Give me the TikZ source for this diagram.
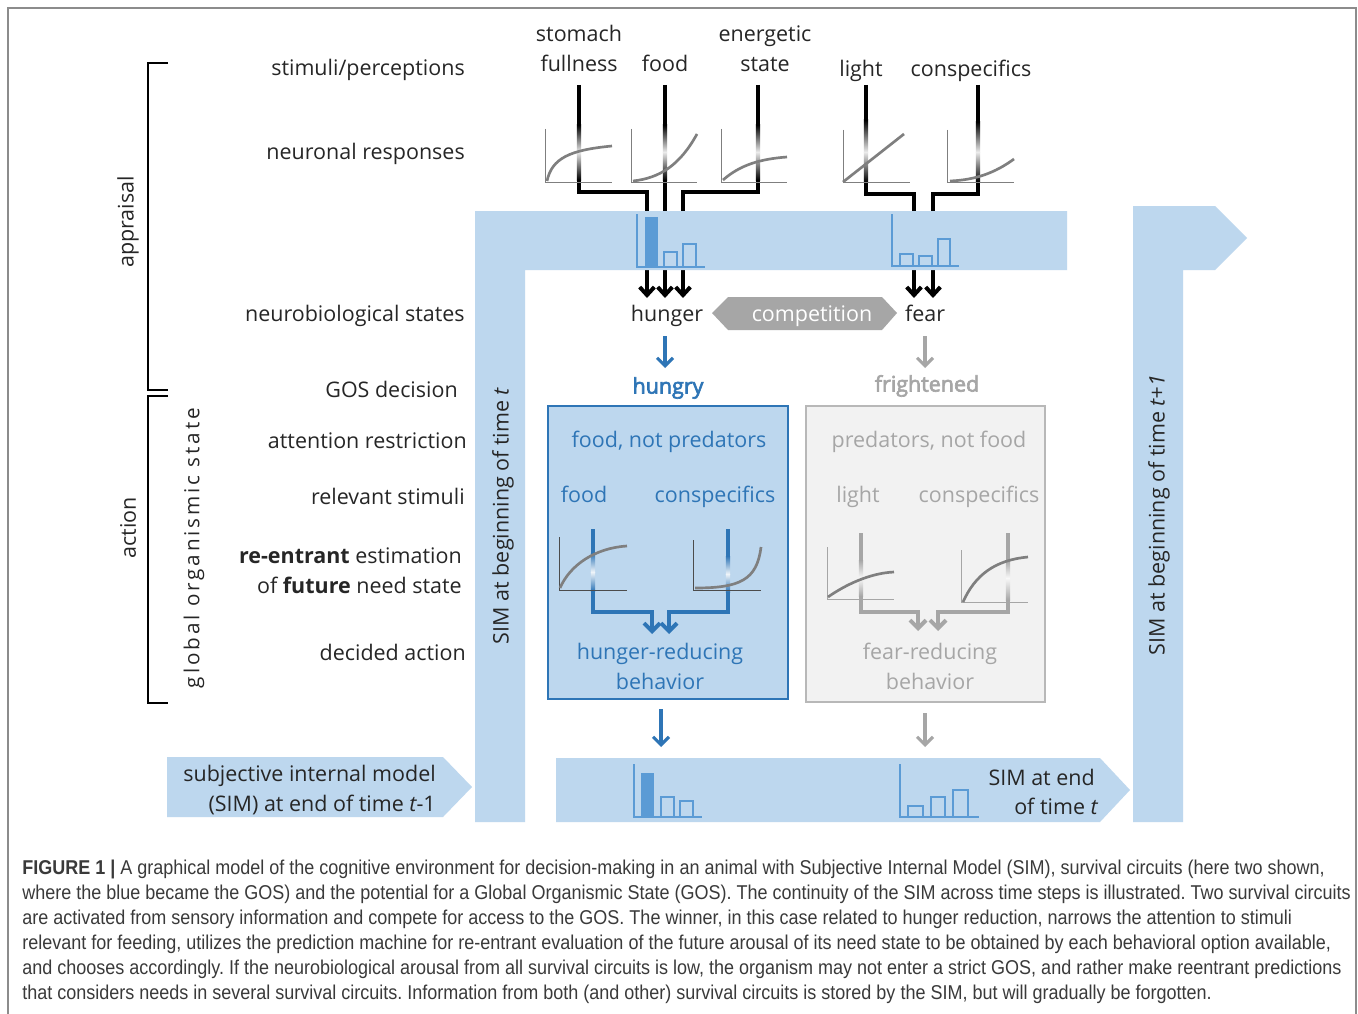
\documentclass[tikz,border=0pt]{standalone}
\usepackage{fontspec}
\setmainfont{Open Sans}
\newfontfamily\capfont[FakeStretch=0.90]{Liberation Sans}
\newfontfamily\gosfont[LetterSpace=14]{Open Sans}
\newfontfamily\semib[FakeBold=3]{Open Sans}
\usetikzlibrary{arrows.meta,calc}
\definecolor{bandblue}{HTML}{BDD7EE}
\definecolor{dblue}{HTML}{2E75B6}
\definecolor{barblue}{HTML}{5B9BD5}
\definecolor{lgrey}{HTML}{A6A6A6}
\definecolor{boxgrey}{HTML}{F2F2F2}
\definecolor{curvegrey}{HTML}{7F7F7F}
\definecolor{txt}{HTML}{262626}
\definecolor{captxt}{HTML}{3A3A3A}
\newcommand\fadeseg[5]{%
  \shade[top color=#5, bottom color=#5!8!white] (#1-2.1,#2) rectangle (#1+2.1,#3);
  \shade[top color=#5!8!white, bottom color=#5] (#1-2.1,#3) rectangle (#1+2.1,#4);}
\tikzset{
  lab/.style={font=\fontsize{16.1}{21}\selectfont, text=txt, inner sep=0pt, anchor=mid, yshift=-2.25pt},
  labr/.style={lab, anchor=mid east},
  blab/.style={lab, text=dblue},
  glab/.style={lab, text=lgrey},
  rot/.style={font=\fontsize{16.1}{21}\selectfont, text=txt, inner sep=0pt, rotate=90, anchor=center},
  axisl/.style={draw=curvegrey, line width=0.7pt},
  daxis/.style={draw=black!70, line width=0.7pt},
  curve/.style={draw=curvegrey, line width=2pt},
  kconn/.style={draw=black, line width=3pt, -{Straight Barb[length=6pt,width=11pt]}},
  bconn/.style={draw=dblue, line width=3pt, -{Straight Barb[length=6pt,width=12pt]}},
  gconn/.style={draw=lgrey, line width=3pt, -{Straight Barb[length=6pt,width=12pt]}},
  barax/.style={draw=barblue, line width=1.3pt},
  barout/.style={draw=barblue, line width=1.1pt},
  captext/.style={font=\capfont\fontsize{15}{19}\selectfont\frenchspacing, text=captxt, inner sep=0pt, anchor=mid west},
}
\begin{document}
\begin{tikzpicture}[x=0.75pt,y=-0.75pt]
\useasboundingbox (0,0) rectangle (1358,1013);
\fill[white] (0,0) rectangle (1358,1013);
\draw[draw=black!45, line width=1.1pt] (8,1030) -- (8,8) -- (1356,8) -- (1356,1030);

% ---------- brackets and left labels
\draw[line width=1.5pt] (168,63) -- (148,63) -- (148,390) -- (168,390);
\draw[line width=1.5pt] (168,396) -- (148,396) -- (148,703) -- (168,703);
\node[rot] (appr) at (128,222) {appraisal};
\node[rot] (act) at (128,528) {action};
\node[rot, font=\gosfont\fontsize{15.5}{20}\selectfont] (gos) at (194,548) {global organismic state};

\node[labr] (l1) at (465,69) {stimuli/perceptions};
\node[labr] (l2) at (465,153) {neuronal responses};
\node[labr] (l3) at (465,315) {neurobiological states};
\node[labr] (l4) at (458,391) {GOS decision};
\node[labr] (l5) at (467,442) {attention restriction};
\node[labr] (l6) at (465,498) {relevant stimuli};
\node[labr] (l7) at (462,557) {\bfseries re-entrant\mdseries{} estimation};
\node[labr] (l8) at (462,587) {of \bfseries future\mdseries{} need state};
\node[labr] (l9) at (466,654) {decided action};

% ---------- stimuli labels
\node[lab] (st1) at (579,35) {stomach};
\node[lab] (st2) at (579,65) {fullness};
\node[lab] (fo) at (665,65) {food};
\node[lab] (en1) at (765,35) {energetic};
\node[lab] (en2) at (765,65) {state};
\node[lab] (li) at (861,70) {light};
\node[lab] (co) at (971,70) {conspecifics};

% ---------- top connectors
\coordinate (s0) at (579,85);  \coordinate (s1) at (647,192); \coordinate (s2) at (647,298);
\coordinate (f0) at (665,85);  \coordinate (f2) at (665,298);
\coordinate (e0) at (758,85);  \coordinate (e1) at (683,192); \coordinate (e2) at (683,298);
\coordinate (g0) at (866,85);  \coordinate (g1) at (914,194); \coordinate (g2) at (914,298);
\coordinate (c0) at (978,85);  \coordinate (c1) at (933,194); \coordinate (c2) at (933,298);
\draw[kconn] (s0) |- (s1) -- (s2);
\draw[kconn] (f0) -- (f2);
\draw[kconn] (e0) |- (e1) -- (e2);
\draw[kconn] (g0) |- (g1) -- (g2);
\draw[kconn] (c0) |- (c1) -- (c2);
\fadeseg{579}{125}{152}{180}{black}
\fadeseg{665}{125}{152}{180}{black}
\fadeseg{758}{125}{152}{180}{black}
\fadeseg{866}{120}{152}{182}{black}
\fadeseg{978}{122}{152}{182}{black}

% response plots
\draw[axisl] (545,129) -- (545,182) -- (612,182);
\draw[curve] (547,181) .. controls (552,158) and (570,150) .. (612,146);
\draw[axisl] (631,129) -- (631,182) -- (697,182);
\draw[curve] (633,181) .. controls (660,178) and (680,165) .. (697,134);
\draw[axisl] (721,129) -- (721,182) -- (787,182);
\draw[curve] (723,180) .. controls (740,165) and (760,159) .. (787,157);
\draw[axisl] (843,130) -- (843,182) -- (910,182);
\draw[curve] (843,182) -- (904,134);
\draw[axisl] (947,130) -- (947,182) -- (1014,182);
\draw[curve] (950,181) .. controls (975,180) and (995,173) .. (1014,159);

% ---------- SIM bands
\fill[bandblue] (475,211) -- (1067,211) -- (1067,270) -- (525,270) -- (525,822) -- (475,822) -- cycle;
\fill[bandblue] (1133,206) -- (1215,206) -- (1247,238) -- (1215,270) -- (1183,270) -- (1183,822) -- (1133,822) -- cycle;
\fill[bandblue] (556,758) -- (1100,758) -- (1130,790) -- (1100,822) -- (556,822) -- cycle;
\fill[bandblue] (167,757) -- (443,757) -- (472,787) -- (443,817) -- (167,817) -- cycle;

\node[rot] (simt) at (503,516) {SIM at beginning of time \itshape t};
\node[rot] (simt1) at (1159,515) {SIM at beginning of time \itshape t+1};
\node[labr] (sim0a) at (436,775) {subjective internal model};
\node[labr] (sim0b) at (436,805) {(SIM) at end of time \itshape t\upshape -1};
\node[labr] (sim1a) at (1095,779) {SIM at end};
\node[labr] (sim1b) at (1098,808) {of time \itshape t};

% bar charts top
\draw[barax] (637,214) -- (637,267) -- (705,267);
\fill[barblue] (645,217) rectangle (658,267);
\draw[barout] (664,252) rectangle (677,267);
\draw[barout] (683,244) rectangle (696,267);
\draw[barax] (892,214) -- (892,266) -- (959,266);
\draw[barout] (900,254) rectangle (913,266);
\draw[barout] (919,256) rectangle (932,266);
\draw[barout] (938,239) rectangle (950,266);
% bar charts bottom
\draw[barax] (634,764) -- (634,817) -- (702,817);
\fill[barblue] (641,773) rectangle (654,817);
\draw[barout] (661,797) rectangle (674,817);
\draw[barout] (680,801) rectangle (693,817);
\draw[barax] (900,764) -- (900,817) -- (979,817);
\draw[barout] (908,806) rectangle (923,817);
\draw[barout] (931,797) rectangle (945,817);
\draw[barout] (953,790) rectangle (968,817);

% ---------- states and competition
\node[lab] (hunger) at (667,315) {hunger};
\node[lab] (fear) at (925,315) {fear};
\fill[lgrey] (712,313) -- (728,297) -- (882,297) -- (897,313) -- (882,330) -- (728,330) -- cycle;
\node[lab, text=white] (comp) at (812,315) {competition};

\coordinate (ha) at (665,336); \coordinate (hb) at (665,368);
\coordinate (fa) at (925,336); \coordinate (fb) at (925,368);
\draw[bconn, line width=2.3pt] (ha) -- (hb);
\draw[gconn, line width=2.3pt] (fa) -- (fb);
\node[blab, font=\semib\fontsize{16.1}{21}\selectfont] (hungry) at (668,387) {hungry};
\node[glab, font=\semib\fontsize{16.1}{21}\selectfont] (fright) at (927,385) {frightened};

% ---------- blue GOS box
\draw[draw=dblue, fill=bandblue, line width=1.2pt] (548,406) rectangle (788,699);
\node[blab] (bt1) at (669,441) {food, not predators};
\node[blab] (bt2) at (584,496) {food};
\node[blab] (bt3) at (715,496) {conspecifics};
\node[blab] (bt4) at (660,653) {hunger-reducing};
\node[blab] (bt5) at (660,683) {behavior};
\draw[bconn] (593,529) -- (593,612) -- (652,612) -- (652,634);
\draw[bconn] (728,529) -- (728,612) -- (669,612) -- (669,634);
\fadeseg{593}{553}{572}{591}{dblue}
\fadeseg{728}{556}{574}{592}{dblue}
\draw[daxis] (559,537) -- (559,590) -- (627,590);
\draw[curve] (560,588) .. controls (570,565) and (595,548) .. (627,546);
\draw[daxis] (693,540) -- (693,590) -- (761,590);
\draw[curve] (695,588) .. controls (740,588) and (757,580) .. (761,547);

% ---------- grey box
\draw[draw=lgrey!80, fill=boxgrey, line width=1.2pt] (806,406) rectangle (1045,702);
\node[glab] (gt1) at (929,441) {predators, not food};
\node[glab] (gt2) at (858,496) {light};
\node[glab] (gt3) at (979,496) {conspecifics};
\node[glab] (gt4) at (930,653) {fear-reducing};
\node[glab] (gt5) at (930,683) {behavior};
\draw[gconn] (861,533) -- (861,612) -- (918,612) -- (918,631);
\draw[gconn] (1008,533) -- (1008,612) -- (938,612) -- (938,631);
\fadeseg{861}{560}{578}{596}{lgrey}
\fadeseg{1008}{560}{578}{600}{lgrey}
\draw[axisl, draw=lgrey] (827,547) -- (827,599) -- (894,599);
\draw[curve] (828,597) .. controls (845,585) and (870,573) .. (894,572);
\draw[axisl, draw=lgrey] (961,550) -- (961,602) -- (1028,602);
\draw[curve] (963,602) .. controls (975,575) and (995,560) .. (1028,557);

% arrows to final SIM
\coordinate (ba) at (661,709); \coordinate (bb) at (661,747);
\coordinate (ga) at (925,713); \coordinate (gb) at (925,747);
\draw[bconn, line width=2.3pt] (ba) -- (bb);
\draw[gconn, line width=2.3pt] (ga) -- (gb);

% ---------- caption
\node[captext] (cap1) at (22,871) {\bfseries FIGURE 1 |\mdseries{} A graphical model of the cognitive environment for decision-making in an animal with Subjective Internal Model (SIM), survival circuits (here two shown,};
\node[captext] (cap2) at (22,896) {where the blue became the GOS) and the potential for a Global Organismic State (GOS). The continuity of the SIM across time steps is illustrated. Two survival circuits};
\node[captext] (cap3) at (22,921) {are activated from sensory information and compete for access to the GOS. The winner, in this case related to hunger reduction, narrows the attention to stimuli};
\node[captext] (cap4) at (22,946) {relevant for feeding, utilizes the prediction machine for re-entrant evaluation of the future arousal of its need state to be obtained by each behavioral option available,};
\node[captext] (cap5) at (22,971) {and chooses accordingly. If the neurobiological arousal from all survival circuits is low, the organism may not enter a strict GOS, and rather make reentrant predictions};
\node[captext] (cap6) at (22,996) {that considers needs in several survival circuits. Information from both (and other) survival circuits is stored by the SIM, but will gradually be forgotten.};
\end{tikzpicture}
\end{document}
